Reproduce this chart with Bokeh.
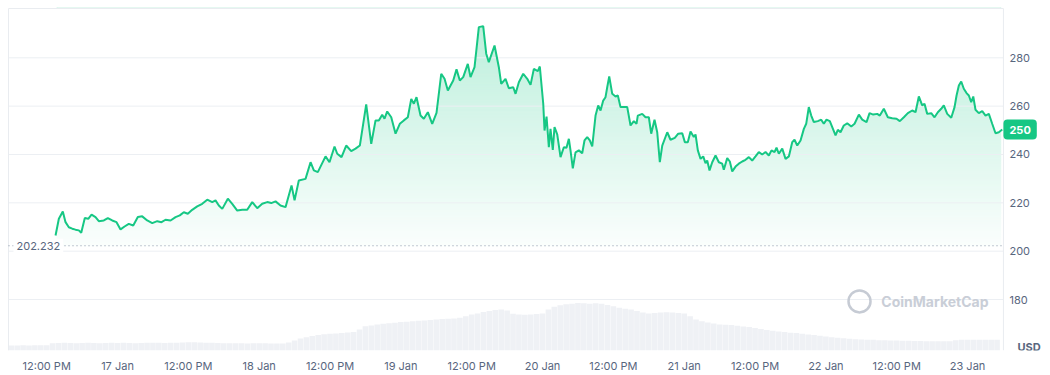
import numpy as np
from bokeh.plotting import figure
from bokeh.models import Range1d, FixedTicker, Label
from bokeh.core.properties import value
from bokeh.embed import file_html
from bokeh.resources import INLINE

# ---- data (hours since 16 Jan 00:00) ----
hours = [13.50,14.06,14.73,15.19,15.75,16.33,16.88,17.44,17.85,18.46,19.04,19.60,20.27,20.83,21.68,22.36,23.10,23.83,24.51,25.19,
         25.91,26.66,27.44,28.18,29.03,29.88,30.73,31.45,32.13,32.98,33.83,34.55,35.23,35.91,36.65,37.50,38.35,39.20,40.04,40.60,
         41.16,41.74,42.69,43.43,44.28,45.13,45.97,46.82,47.67,48.51,49.36,50.04,50.77,51.61,52.46,53.48,53.99,54.71,55.85,56.70,
         57.26,57.93,59.24,59.91,60.76,61.22,61.95,62.74,63.59,64.32,65.05,66.13,66.98,67.71,68.27,68.84,69.23,69.69,70.37,71.10,
         71.82,72.50,73.18,73.76,74.20,74.65,75.33,75.89,76.57,77.31,78.04,78.84,79.40,79.96,80.87,81.43,81.99,82.56,83.34,83.80,
         84.48,85.21,85.95,86.46,86.90,87.87,88.60,89.00,89.73,90.29,91.04,91.43,91.99,92.73,93.41,93.97,94.53,95.20,95.54,96.12,
         96.34,96.68,97.07,97.35,97.74,98.03,98.49,99.05,99.61,100.06,100.46,100.74,101.13,101.59,102.15,102.72,103.11,103.57,104.01,104.42,
         104.98,105.43,105.83,106.28,106.67,106.96,107.30,107.81,108.37,108.76,109.21,110.35,110.91,111.47,111.92,112.14,112.89,113.45,114.01,114.41,
         114.97,115.43,115.87,116.28,117.13,117.68,118.41,118.99,119.67,120.11,120.61,121.07,121.63,121.92,122.31,122.77,123.22,123.61,123.90,124.29,
         124.75,125.31,125.87,126.44,126.71,127.29,127.73,128.14,128.70,129.25,129.83,130.39,130.95,131.52,132.08,132.64,133.22,133.78,134.34,134.79,
         135.30,135.64,136.03,136.61,137.17,137.73,138.30,138.69,139.15,139.71,140.27,140.67,141.11,141.52,141.96,142.64,143.21,143.65,144.11,144.67,
         145.08,145.64,146.03,146.48,147.04,147.62,148.30,148.86,149.59,150.16,150.89,151.40,152.02,152.70,153.14,153.82,154.50,155.24,155.97,156.53,
         157.21,157.89,158.63,159.19,159.75,160.32,160.71,161.17,161.85,162.41,162.97,163.54,163.98,164.56,165.24,165.80,166.14,166.53,166.93,167.37,
         167.83,168.22,168.62,168.97,169.35,169.91,170.49,171.05,171.61,172.18,172.74,173.30,173.88]

prices = [206.5,213.4,216.4,212.0,209.9,209.3,208.9,208.6,207.6,213.7,213.4,215.1,214.1,212.4,212.7,213.7,212.7,212.0,209.0,210.2,
          211.3,210.6,214.1,214.4,212.7,211.6,212.4,212.0,213.0,212.7,214.1,214.8,216.1,215.5,217.1,218.5,219.6,221.3,220.3,221.0,
          218.9,217.5,221.7,219.6,216.8,217.1,217.1,220.3,217.8,219.6,220.3,219.9,220.6,218.9,218.2,227.2,221.0,229.2,229.9,236.8,
          233.4,232.7,239.2,236.8,243.3,240.3,238.9,243.7,241.4,242.4,243.7,260.7,244.4,254.1,254.1,256.4,254.8,257.8,255.4,248.6,
          252.7,254.1,255.4,263.0,261.0,263.7,256.1,254.8,257.5,252.7,257.2,273.4,271.3,266.5,270.6,275.2,270.6,272.0,277.5,272.0,
          276.1,292.7,293.1,281.7,278.2,285.1,276.1,269.2,271.3,267.4,267.8,265.1,269.9,273.4,271.3,268.8,275.4,274.5,276.4,261.0,
          249.9,255.7,243.0,250.6,241.9,251.3,248.3,238.9,243.0,242.8,246.5,241.7,234.3,240.9,241.7,240.5,245.8,247.2,245.8,243.3,
          256.1,260.3,258.2,262.3,263.7,267.8,272.3,265.1,264.0,264.4,259.6,259.6,252.0,253.8,252.7,256.1,256.8,255.4,255.4,248.6,
          254.4,249.2,236.8,243.7,249.2,246.1,246.9,248.6,248.8,245.1,245.1,249.5,247.2,248.3,241.7,238.2,239.2,236.4,237.5,233.4,
          236.8,239.6,236.8,236.2,233.7,238.5,237.1,233.0,235.0,236.2,237.1,237.8,238.9,237.5,239.2,241.0,240.0,241.0,239.6,241.7,
          241.0,242.8,240.3,242.4,238.2,239.2,245.1,246.1,243.7,245.8,250.6,252.7,259.6,256.1,253.4,253.8,254.4,252.7,254.4,253.8,
          251.3,247.9,250.2,249.2,252.0,252.9,251.6,252.7,256.5,254.4,253.4,257.1,256.5,256.8,256.1,258.9,255.4,255.0,254.8,253.8,
          255.4,257.1,258.2,257.5,264.0,260.3,261.0,256.8,257.1,255.4,257.5,258.9,260.3,256.8,255.2,259.6,264.4,268.5,270.2,267.2,
          265.4,264.4,261.6,264.0,258.5,257.1,257.9,256.1,256.8,252.7,248.8,249.2,250.3]

vol_hours = list(range(6, 174))
volumes = [30,30,31,30,31,32,32,
           44,45,46,45,44,45,46,45,44,45,46,
           45,46,45,44,45,46,47,46,45,46,47,48,
           50,49,48,47,46,45,
           44,43,44,43,42,43,44,43,42,42,
           42,48,60,72,80,86,92,97,100,102,105,107,110,
           125,145,150,155,160,163,166,170,172,175,178,180,183,186,188,190,192,196,
           205,215,222,230,236,242,246,240,220,216,214,216,218,222,
           245,262,270,276,280,284,283,280,282,280,272,264,256,250,245,236,228,222,225,228,229,228,225,222,
           205,185,175,168,162,156,154,152,148,144,140,134,128,122,118,114,110,106,104,100,96,92,88,84,80,76,73,70,68,66,
           65,64,62,61,60,60,59,58,57,57,56,56,55,55,56,62,64,64,64,64,64,64,64]

tick_hours = [12, 24, 36, 48, 60, 72, 84, 96, 108, 120, 132, 144, 156, 168]
tick_labels = ["12:00 PM", "17 Jan", "12:00 PM", "18 Jan", "12:00 PM", "19 Jan", "12:00 PM",
               "20 Jan", "12:00 PM", "21 Jan", "12:00 PM", "22 Jan", "12:00 PM", "23 Jan"]
y_ticks = [180, 200, 220, 240, 260, 280]
y_tick_labels = ["180", "200", "220", "240", "260", "280"]
open_price = 202.232
open_label = "202.232"
last_price = 250.3
last_label = "250"

assert len(hours) == len(prices)
assert len(vol_hours) == len(volumes)

GREEN = "#16c784"
GRAY = "#58667e"
LINE = "#e9ecf0"
FONT = "Inter"

# chart area (price plot) and the wider frame that also holds the right-hand labels
X0, X1 = 5.53, 174.08
Y0, Y1 = 158.9, 300.4
FX0, FX1 = 5.36, 180.70
FY1 = 300.81

p = figure(frame_width=1035, frame_height=343,
           x_range=Range1d(FX0, FX1), y_range=Range1d(Y0, FY1),
           output_backend="svg", toolbar_location=None,
           min_border_left=7, min_border_top=7, min_border_right=0, min_border_bottom=25,
           background_fill_color="white", border_fill_color="white")
p.outline_line_color = None
p.xgrid.visible = False
p.ygrid.visible = False
p.yaxis.visible = False

# volume
p.extra_y_ranges = {"vol": Range1d(0, 2052)}
p.vbar(x=vol_hours, top=volumes, width=0.95, bottom=0, y_range_name="vol",
       fill_color="#eff1f5", line_color=None)

# gradient area (bands from the open price up, masked above the line)
levels = np.arange(open_price, Y1, 1.0)

def band_color(v):
    a = min(0.02 + (v - open_price) * 0.0029, 0.3)
    r = round(255 - a * (255 - 22))
    g = round(255 - a * (255 - 199))
    b = round(255 - a * (255 - 132))
    return f"#{r:02x}{g:02x}{b:02x}"

cols = [band_color(v + 0.5) for v in levels]
p.quad(left=[hours[0] + 0.25] * len(levels), right=[hours[-1] - 0.25] * len(levels),
       bottom=list(levels), top=list(levels + 1.0), fill_color=cols, line_color=cols,
       line_width=1)
p.varea(x=hours, y1=prices, y2=[FY1] * len(prices), color="white")

# grid lines and chart border (stop at the chart's right edge)
p.segment(x0=[X0] * len(y_ticks), x1=[X1] * len(y_ticks), y0=y_ticks, y1=y_ticks,
          line_color="#eceff3", line_width=1)
p.segment(x0=[X0, X0, X1], x1=[X1, X0, X1], y0=[Y1, Y0, Y0], y1=[Y1, Y1, Y1],
          line_color=LINE, line_width=1)

# open price dotted line
p.segment(x0=[X0], x1=[X1], y0=[open_price], y1=[open_price],
          line_color="#8a94a6", line_dash="1 3", line_width=1)

# price line
p.line(hours, prices, line_color=GREEN, line_width=2)

# y tick labels on the right
p.text(x=[X1] * len(y_ticks), y=y_ticks, text=y_tick_labels, x_offset=6,
       text_align="left", text_baseline="middle", text_font=value(FONT),
       text_font_size="11px", text_color=GRAY)

# open price label
p.add_layout(Label(x=X0, y=open_price, x_offset=5, text=open_label, text_baseline="middle",
                   text_font=FONT, text_font_size="11px", text_color=GRAY,
                   background_fill_color="white", padding=3))

# last price box
p.add_layout(Label(x=X1, y=last_price, x_offset=0, text=last_label, text_baseline="middle",
                   text_font=FONT, text_font_size="11px", text_font_style="bold",
                   text_color="white", background_fill_color=GREEN, padding=6,
                   border_radius=4))

# USD
p.add_layout(Label(x=X1, y=Y0, x_offset=14, y_offset=4, text="USD", text_baseline="middle",
                   text_font=FONT, text_font_size="11px", text_font_style="bold",
                   text_color=GRAY))

# watermark
p.scatter(x=[149.7], y=[179.2], size=22, marker="circle", fill_color=None,
          line_color="#c6cbd4", line_width=2.5)
p.add_layout(Label(x=153.4, y=179.0, text="CoinMarketCap", text_baseline="middle",
                   text_font=FONT, text_font_size="14px", text_font_style="bold",
                   text_color="#c9ced7"))

# x axis
xa = p.xaxis[0]
xa.ticker = FixedTicker(ticks=tick_hours)
xa.major_label_overrides = {h: l for h, l in zip(tick_hours, tick_labels)}
xa.axis_line_color = None
xa.major_tick_line_color = None
xa.minor_tick_line_color = None
xa.major_label_text_font = FONT
xa.major_label_text_font_size = "11px"
xa.major_label_text_color = GRAY
xa.major_label_standoff = 2

open("out.html", "w").write(file_html(p, INLINE))
